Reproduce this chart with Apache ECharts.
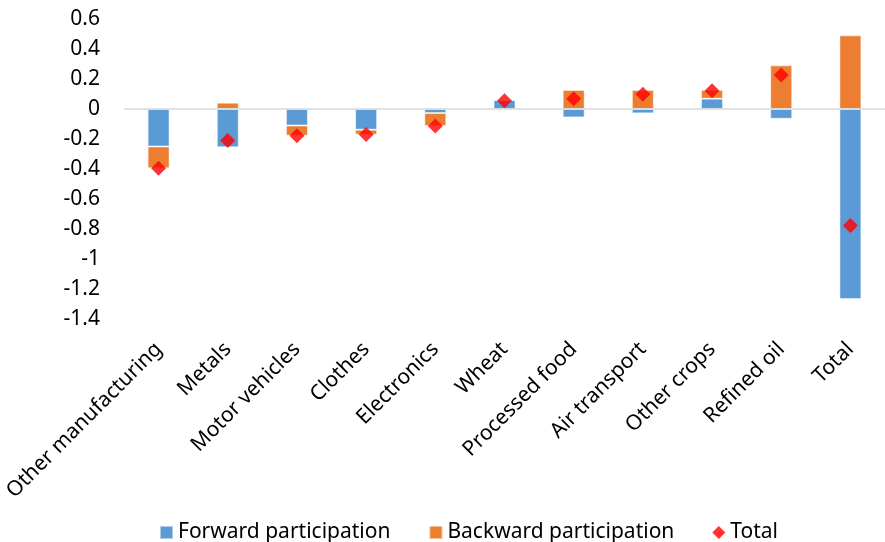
<!DOCTYPE html>
<html>
<head>
<meta charset="utf-8">
<script src="https://cdn.jsdelivr.net/npm/echarts@6/dist/echarts.min.js"></script>
<style>html,body{margin:0;padding:0;background:#fff}#c{width:885px;height:542px}</style>
</head>
<body>
<div id="c"></div>
<script>
const categories = ["Other manufacturing","Metals","Motor vehicles","Clothes","Electronics","Wheat","Processed food","Air transport","Other crops","Refined oil","Total"];
const forward = [-0.25,-0.255,-0.11,-0.138,-0.027,0.06,-0.056,-0.029,0.069,-0.065,-1.267];
const backward = [-0.145,0.042,-0.068,-0.033,-0.086,0,0.127,0.127,0.058,0.291,0.491];
const total = [-0.395,-0.21,-0.178,-0.17,-0.113,0.055,0.069,0.098,0.122,0.227,-0.777];
const yTicks = {min:-1.4, max:0.6, interval:0.2};

const FONT = "'Noto Sans', sans-serif";
const chart = echarts.init(document.getElementById('c'), null, {renderer:'canvas'});
chart.setOption({
  animation:false,
  textStyle:{fontFamily:FONT, color:'#000'},
  grid:{left:124, top:19, width:770, height:300, containLabel:false},
  xAxis:{type:'category', data:categories,
    axisLine:{show:false}, axisTick:{show:false},
    axisLabel:{rotate:45, interval:0, margin:27, fontSize:21, color:'#000', fontFamily:FONT}},
  yAxis:{type:'value', min:yTicks.min, max:yTicks.max, interval:yTicks.interval,
    axisLine:{show:false}, axisTick:{show:false}, splitLine:{show:false},
    axisLabel:{fontSize:21, color:'#000', margin:24, fontFamily:FONT,
      formatter:v=>String(Math.round(v*10)/10)}},
  legend:{top:517, left:154, itemWidth:13, itemHeight:13, itemGap:38,
    textStyle:{fontSize:21, color:'#000', fontFamily:FONT},
    data:[{name:'Forward participation', icon:'rect'},{name:'Backward participation', icon:'rect'},{name:'Total', icon:'diamond'}]},
  series:[
    {name:'Forward participation', type:'bar', stack:'s', data:forward, barWidth:22,
      itemStyle:{color:'#5B9BD5', borderColor:'rgba(255,255,255,0.5)', borderWidth:1},
      markLine:{silent:true, symbol:'none', label:{show:false}, lineStyle:{color:'#D9D9D9', width:1.5, type:'solid'}, data:[{yAxis:0}]}},
    {name:'Backward participation', type:'bar', stack:'s', data:backward, barWidth:22,
      itemStyle:{color:'#ED7D31', borderColor:'rgba(255,255,255,0.5)', borderWidth:1}},
    {name:'Total', type:'scatter', data:total, symbol:'diamond', symbolSize:15, z:5,
      itemStyle:{color:'#FF0000'}}
  ]
});
</script>
</body>
</html>
